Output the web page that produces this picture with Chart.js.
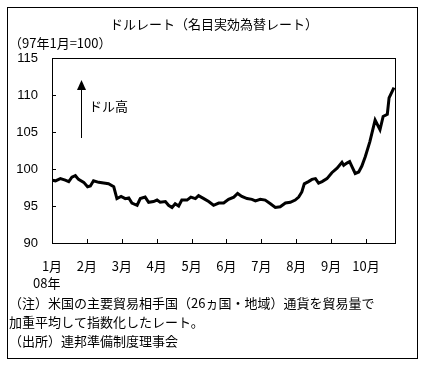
<!DOCTYPE html>
<html lang="ja">
<head>
<meta charset="utf-8">
<script src="https://cdn.jsdelivr.net/npm/chart.js@4.4.1/dist/chart.umd.min.js"></script>
<style>
  html, body { margin: 0; padding: 0; background: #fff; }
  #wrap { width: 428px; height: 369px; position: relative; }
</style>
</head>
<body>
<div id="wrap"><canvas id="chart" width="428" height="369"></canvas></div>
<script>
// ================================
// DATA
// ================================
const monthLabels = ["1月", "2月", "3月", "4月", "5月", "6月", "7月", "8月", "9月", "10月"];
const monthTicks = [0, 1, 2, 3, 4, 5, 6, 7, 8, 9];
const yTicks = [90, 95, 100, 105, 110, 115];

// position in months since Jan 1 2008
const datePos = [
  0.00, 0.10, 0.24, 0.38, 0.48, 0.57, 0.67, 0.76, 0.91, 1.02,
  1.10, 1.19, 1.34, 1.48, 1.62, 1.77, 1.86, 1.98, 2.10, 2.20,
  2.29, 2.44, 2.53, 2.67, 2.77, 2.91, 3.01, 3.10, 3.25, 3.34,
  3.44, 3.53, 3.63, 3.72, 3.87, 3.98, 4.11, 4.20, 4.35, 4.49,
  4.63, 4.78, 4.92, 5.06, 5.21, 5.32, 5.44, 5.59, 5.73, 5.83,
  5.97, 6.11, 6.26, 6.40, 6.54, 6.69, 6.83, 6.97, 7.07, 7.16,
  7.23, 7.35, 7.45, 7.55, 7.64, 7.74, 7.88, 8.02, 8.17, 8.31,
  8.36, 8.45, 8.53, 8.60, 8.69, 8.79, 8.88, 8.98, 9.11, 9.26,
  9.40, 9.49, 9.61, 9.66, 9.80
];
const dollarRate = [
  98.5, 98.4, 98.7, 98.5, 98.3, 98.9, 99.1, 98.6, 98.2, 97.6,
  97.7, 98.4, 98.2, 98.1, 98.0, 97.6, 96.0, 96.3, 96.0, 96.1,
  95.4, 95.1, 96.0, 96.2, 95.5, 95.6, 95.8, 95.5, 95.6, 95.1,
  94.8, 95.3, 95.0, 95.8, 95.8, 96.2, 96.0, 96.4, 96.0, 95.6,
  95.1, 95.4, 95.4, 95.9, 96.2, 96.7, 96.3, 96.0, 95.9, 95.7,
  95.9, 95.8, 95.3, 94.8, 94.9, 95.4, 95.5, 95.8, 96.2, 96.9,
  98.0, 98.3, 98.6, 98.7, 98.1, 98.3, 98.7, 99.5, 100.1, 100.9,
  100.5, 100.8, 101.0, 100.3, 99.4, 99.6, 100.4, 101.7, 103.7, 106.6,
  105.3, 107.1, 107.4, 109.6, 111.0
];

const titleText = "ドルレート（名目実効為替レート）";
const unitText = "（97年1月=100）";
const yearText = "08年";
const arrowText = "ドル高";
const noteLines = [
  "（注）米国の主要貿易相手国（26ヵ国・地域）通貨を貿易量で",
  "加重平均して指数化したレート。",
  "（出所）連邦準備制度理事会"
];

// ================================
// DRAWING
// ================================
const FONT = '"Noto Sans CJK JP", "Noto Sans", sans-serif';

const decor = {
  id: "decor",
  afterDraw(chart) {
    const ctx = chart.ctx;
    const a = chart.chartArea;
    const xs = chart.scales.x;
    const ys = chart.scales.y;
    ctx.save();

    // outer frame
    ctx.strokeStyle = "#000";
    ctx.lineWidth = 1;
    ctx.strokeRect(7.5, 7.5, 410, 351);

    // plot frame
    ctx.strokeRect(a.left + 0.5, a.top + 0.5, a.right - a.left, a.bottom - a.top);

    // inside tick marks
    ctx.beginPath();
    yTicks.forEach((v) => {
      const y = Math.round(ys.getPixelForValue(v)) + 0.5;
      ctx.moveTo(a.left, y);
      ctx.lineTo(a.left + 4, y);
    });
    monthTicks.forEach((v) => {
      const x = Math.round(xs.getPixelForValue(v)) + 0.5;
      ctx.moveTo(x, a.bottom);
      ctx.lineTo(x, a.bottom - 4);
    });
    ctx.stroke();

    // texts
    ctx.fillStyle = "#000";
    ctx.textBaseline = "middle";
    ctx.font = "13px " + FONT;
    ctx.textAlign = "center";
    ctx.fillText(titleText, 214, 24);
    ctx.textAlign = "left";
    ctx.fillText(unitText, 9, 43);
    ctx.fillText(yearText, 33, 283);
    noteLines.forEach((t, i) => ctx.fillText(t, 9, 303 + i * 19));

    // arrow
    const ax = a.left + 29.5;
    ctx.beginPath();
    ctx.moveTo(ax, a.top + 80);
    ctx.lineTo(ax, a.top + 30);
    ctx.stroke();
    ctx.beginPath();
    ctx.moveTo(ax, a.top + 22);
    ctx.lineTo(ax - 4.5, a.top + 32);
    ctx.lineTo(ax + 4.5, a.top + 32);
    ctx.closePath();
    ctx.fill();
    ctx.fillText(arrowText, a.left + 37, a.top + 48);

    ctx.restore();
  },
};

new Chart(document.getElementById("chart"), {
  type: "line",
  data: {
    datasets: [
      {
        data: datePos.map((x, i) => ({ x: x, y: dollarRate[i] })),
        borderColor: "#000",
        borderWidth: 3,
        pointRadius: 0,
        tension: 0,
        fill: false,
      },
    ],
  },
  options: {
    responsive: false,
    animation: false,
    events: [],
    layout: { padding: { left: 0, right: 33, top: 58, bottom: 96 } },
    plugins: { legend: { display: false }, tooltip: { enabled: false } },
    scales: {
      x: {
        type: "linear",
        min: 0,
        max: 9.83,
        grid: { display: false, drawTicks: false },
        border: { display: false },
        afterBuildTicks: (s) => { s.ticks = monthTicks.map((v) => ({ value: v })); },
        afterFit: (s) => { s.height = 30; },
        ticks: {
          padding: 15,
          maxRotation: 0,
          autoSkip: false,
          color: "#000",
          font: { family: FONT, size: 13 },
          callback: (v) => monthLabels[v] || "",
        },
      },
      y: {
        min: 90,
        max: 115,
        grid: { display: false, drawTicks: false },
        border: { display: false },
        afterBuildTicks: (s) => { s.ticks = yTicks.map((v) => ({ value: v })); },
        afterFit: (s) => { s.width = 52; },
        ticks: {
          padding: 14,
          color: "#000",
          font: { family: "'Liberation Sans', sans-serif", size: 13 },
        },
      },
    },
  },
  plugins: [decor],
});
</script>
</body>
</html>
